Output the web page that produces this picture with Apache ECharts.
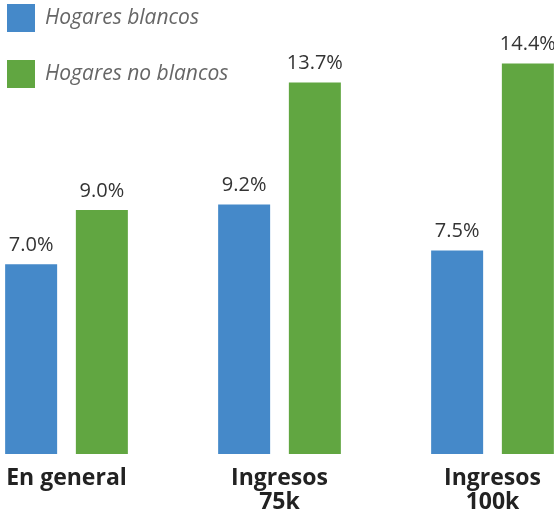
<!DOCTYPE html>
<html>
<head>
<meta charset="utf-8">
<title>Hogares</title>
<script src="https://cdn.jsdelivr.net/npm/echarts@6/dist/echarts.min.js"></script>
<style>
html, body { margin: 0; padding: 0; background: #fff; }
#chart { width: 554px; height: 513px; }
</style>
</head>
<body>
<div id="chart"></div>
<script type="text/javascript">
var categories = ['En general', 'Ingresos\n75k', 'Ingresos\n100k'];
var blancos = [7.0, 9.2, 7.5];
var noBlancos = [9.0, 13.7, 14.4];

var myChart = echarts.init(document.getElementById('chart'));

var labelStyle = {
    show: true,
    position: 'top',
    distance: 9,
    fontFamily: 'Open Sans',
    fontSize: 20,
    color: '#333',
    formatter: function (p) { return p.value.toFixed(1) + '%'; }
};

myChart.setOption({
    animation: false,
    legend: {
        orient: 'vertical',
        left: 7,
        top: 4,
        padding: 0,
        itemWidth: 28,
        itemHeight: 28,
        itemGap: 28,
        icon: 'rect',
        textStyle: {
            fontFamily: 'Open Sans',
            fontStyle: 'italic',
            fontSize: 21,
            color: '#666',
            padding: [0, 0, 0, 5]
        }
    },
    grid: {
        left: -40,
        right: -45,
        top: 20,
        bottom: 59,
        containLabel: false,
        outerBoundsMode: 'none'
    },
    xAxis: {
        type: 'category',
        data: categories,
        axisLine: { show: false },
        axisTick: { show: false },
        axisLabel: {
            margin: 12,
            fontFamily: 'Open Sans',
            fontWeight: 'bold',
            fontSize: 23,
            lineHeight: 24,
            color: '#222'
        }
    },
    yAxis: {
        type: 'value',
        min: 0,
        max: 16,
        show: false,
        splitLine: { show: false }
    },
    series: [{
        name: 'Hogares blancos',
        type: 'bar',
        data: blancos,
        barWidth: 52,
        barGap: '36%',
        itemStyle: { color: '#4589C9' },
        label: labelStyle
    }, {
        name: 'Hogares no blancos',
        type: 'bar',
        data: noBlancos,
        barWidth: 52,
        itemStyle: { color: '#61A641' },
        label: labelStyle
    }]
});
</script>
</body>
</html>
